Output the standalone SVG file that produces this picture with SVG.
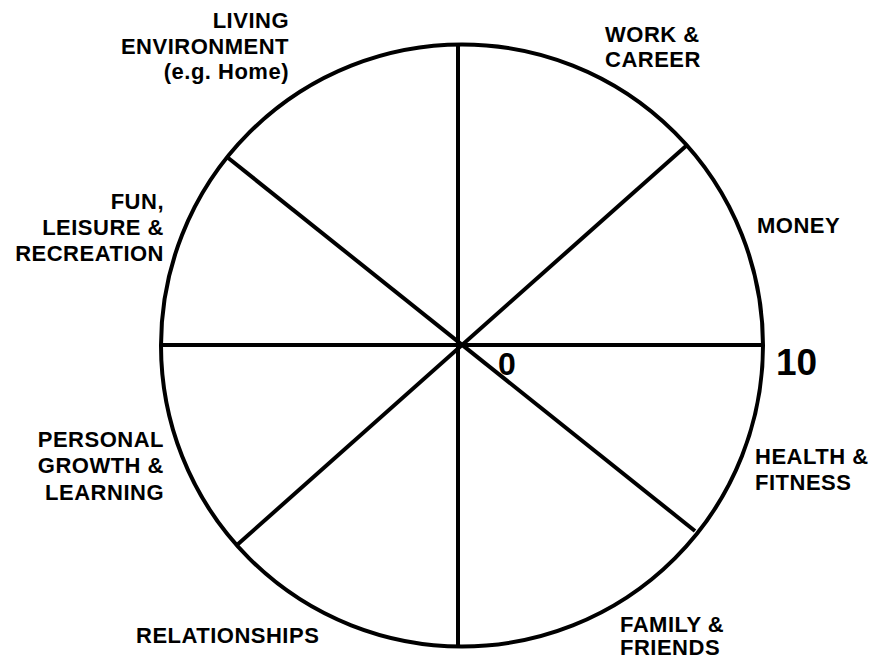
<svg xmlns="http://www.w3.org/2000/svg" width="872" height="659" viewBox="0 0 872 659">
<style>
.lbl{font-family:"Liberation Sans",Arial,sans-serif;font-weight:bold;font-size:22px;letter-spacing:0.5px;fill:#000}
.end{text-anchor:end}
.num{font-family:"Liberation Sans",Arial,sans-serif;font-weight:bold;fill:#000}
.ln{stroke:#000;stroke-width:4;fill:none}
</style>
<rect width="872" height="659" fill="#fff"/>
<g id="wheel">
<circle class="ln" cx="462" cy="345.5" r="301"/>
</g>
<g id="spokes">
<line class="ln" x1="458" y1="44" x2="458" y2="647"/>
<line class="ln" x1="161" y1="345" x2="762" y2="345"/>
<line class="ln" x1="227" y1="157" x2="695" y2="531"/>
<line class="ln" x1="686" y1="146" x2="237" y2="545"/>
</g>
<g id="living"><text class="lbl end" x="289" y="28">LIVING</text><text class="lbl end" x="289" y="54">ENVIRONMENT</text><text class="lbl end" x="289" y="79">(e.g. Home)</text></g>
<g id="work"><text class="lbl" x="605" y="42">WORK &amp;</text><text class="lbl" x="605" y="67">CAREER</text></g>
<g id="fun"><text class="lbl end" x="164" y="209">FUN,</text><text class="lbl end" x="164" y="235">LEISURE &amp;</text><text class="lbl end" x="164" y="261">RECREATION</text></g>
<g id="money"><text class="lbl" x="757" y="233">MONEY</text></g>
<g id="zero"><text class="num" x="498" y="375" font-size="32">0</text></g>
<g id="ten"><text class="num" x="776" y="375" font-size="37">10</text></g>
<g id="personal"><text class="lbl end" x="164" y="447">PERSONAL</text><text class="lbl end" x="164" y="473">GROWTH &amp;</text><text class="lbl end" x="164" y="500">LEARNING</text></g>
<g id="health"><text class="lbl" x="755" y="464">HEALTH &amp;</text><text class="lbl" x="755" y="490">FITNESS</text></g>
<g id="relationships"><text class="lbl" x="136" y="643">RELATIONSHIPS</text></g>
<g id="family"><text class="lbl" x="620" y="632">FAMILY &amp;</text><text class="lbl" x="620" y="655">FRIENDS</text></g>
</svg>
